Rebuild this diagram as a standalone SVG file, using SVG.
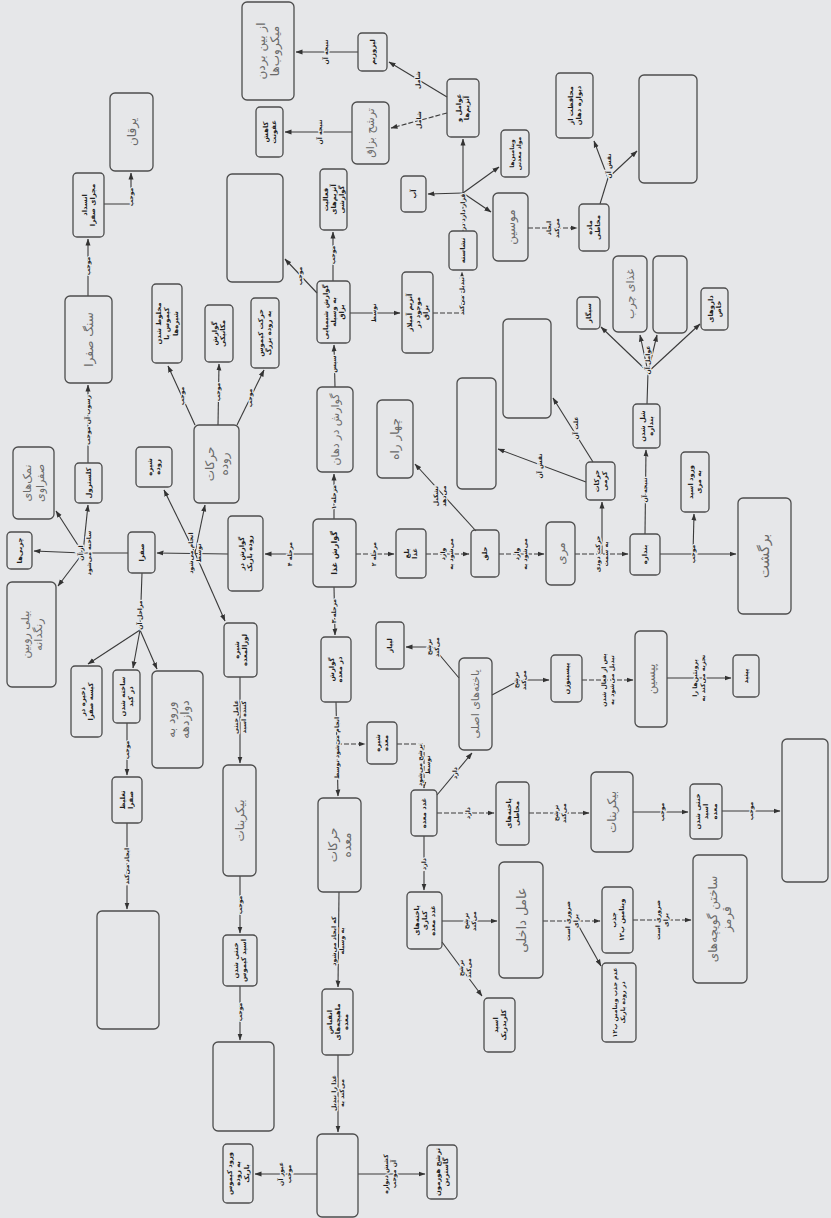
<svg xmlns="http://www.w3.org/2000/svg" width="831" height="1218" viewBox="0 0 831 1218">
<defs>
<style>
.bx{fill:none;stroke:#4d4d4d;stroke-width:1.3}
.t{font-family:"DejaVu Sans",sans-serif;font-size:6.8px;font-weight:bold;fill:#1e1e1e;text-anchor:middle}
.h{font-family:"DejaVu Sans",sans-serif;font-size:12px;fill:#6a6a6a;text-anchor:middle}
.l{font-family:"DejaVu Sans",sans-serif;font-size:6.2px;font-weight:bold;fill:#1e1e1e;text-anchor:middle;stroke:#e6e7e9;stroke-width:2.5;paint-order:stroke}
.e{fill:none;stroke:#3a3a3a;stroke-width:1.1}
.d{stroke-dasharray:5 2}
</style>
<marker id="a" markerWidth="7" markerHeight="6" refX="6.5" refY="3" orient="auto" markerUnits="userSpaceOnUse"><path d="M0,0.5 L7,3 L0,5.5z" fill="#333"/></marker>
</defs>
<rect width="831" height="1218" fill="#e6e7e9"/>
<g id="connectors">
<path class="e" d="M334,519 L334,474" marker-end="url(#a)"/>
<path class="e" d="M335,387 L334,345" marker-end="url(#a)"/>
<path class="e" d="M333,281 L333,232" marker-end="url(#a)"/>
<path class="e" d="M317,293 L285,259" marker-end="url(#a)"/>
<path class="e" d="M350,313 L400,313" marker-end="url(#a)"/>
<path class="e d" d="M433,313 L462,313 L462,272" marker-end="url(#a)"/>
<path class="e" d="M463,231 L463,139" marker-end="url(#a)"/>
<path class="e" d="M463,193 L428,194" marker-end="url(#a)"/>
<path class="e" d="M463,193 L499,167" marker-end="url(#a)"/>
<path class="e" d="M463,193 L491,212" marker-end="url(#a)"/>
<path class="e" d="M447,97 L389,62" marker-end="url(#a)"/>
<path class="e d" d="M447,113 L391,128" marker-end="url(#a)"/>
<path class="e" d="M358,52 L296,52" marker-end="url(#a)"/>
<path class="e" d="M352,132 L285,132" marker-end="url(#a)"/>
<path class="e d" d="M528,228 L577,228" marker-end="url(#a)"/>
<path class="e" d="M600,204 L608,178"/>
<path class="e" d="M608,178 L594,141" marker-end="url(#a)"/>
<path class="e" d="M608,178 L637,151" marker-end="url(#a)"/>
<path class="e d" d="M356,554 L394,554" marker-end="url(#a)"/>
<path class="e d" d="M426,554 L469,554" marker-end="url(#a)"/>
<path class="e" d="M476,531 L415,464" marker-end="url(#a)"/>
<path class="e d" d="M499,554 L544,554" marker-end="url(#a)"/>
<path class="e d" d="M575,554 L628,554" marker-end="url(#a)"/>
<path class="e" d="M602,554 L602,502" marker-end="url(#a)"/>
<path class="e" d="M586,482 L498,449" marker-end="url(#a)"/>
<path class="e" d="M593,462 L553,398" marker-end="url(#a)"/>
<path class="e" d="M645,534 L646,450" marker-end="url(#a)"/>
<path class="e" d="M647,404 L648,372"/>
<path class="e" d="M648,372 L601,327" marker-end="url(#a)"/>
<path class="e" d="M648,372 L640,335" marker-end="url(#a)"/>
<path class="e" d="M648,372 L657,335" marker-end="url(#a)"/>
<path class="e" d="M648,372 L700,324" marker-end="url(#a)"/>
<path class="e" d="M660,554 L736,554" marker-end="url(#a)"/>
<path class="e" d="M693,554 L694,514" marker-end="url(#a)"/>
<path class="e" d="M334,587 L335,635" marker-end="url(#a)"/>
<path class="e" d="M336,702 L338,796" marker-end="url(#a)"/>
<path class="e d" d="M337,744 L365,744" marker-end="url(#a)"/>
<path class="e d" d="M397,744 L424,744 L424,788" marker-end="url(#a)"/>
<path class="e" d="M437,795 L472,753" marker-end="url(#a)"/>
<path class="e d" d="M437,813 L494,813" marker-end="url(#a)"/>
<path class="e" d="M424,836 L424,890" marker-end="url(#a)"/>
<path class="e" d="M459,678 L433,647 L406,647" marker-end="url(#a)"/>
<path class="e" d="M492,695 L520,680 L549,680" marker-end="url(#a)"/>
<path class="e d" d="M582,680 L633,680" marker-end="url(#a)"/>
<path class="e" d="M667,678 L731,678" marker-end="url(#a)"/>
<path class="e d" d="M529,813 L589,813" marker-end="url(#a)"/>
<path class="e" d="M633,812 L688,812" marker-end="url(#a)"/>
<path class="e" d="M722,811 L780,811" marker-end="url(#a)"/>
<path class="e" d="M442,921 L497,921" marker-end="url(#a)"/>
<path class="e d" d="M543,921 L600,921" marker-end="url(#a)"/>
<path class="e" d="M577,923 L601,966" marker-end="url(#a)"/>
<path class="e d" d="M633,920 L691,920" marker-end="url(#a)"/>
<path class="e" d="M442,942 L482,996" marker-end="url(#a)"/>
<path class="e" d="M339,892 L338,987" marker-end="url(#a)"/>
<path class="e" d="M338,1055 L338,1132" marker-end="url(#a)"/>
<path class="e" d="M317,1174 L255,1174" marker-end="url(#a)"/>
<path class="e" d="M358,1174 L425,1174" marker-end="url(#a)"/>
<path class="e" d="M313,554 L265,554" marker-end="url(#a)"/>
<path class="e" d="M228,554 L157,553" marker-end="url(#a)"/>
<path class="e" d="M195,553 L164,490" marker-end="url(#a)"/>
<path class="e" d="M195,553 L205,505" marker-end="url(#a)"/>
<path class="e" d="M195,553 L225,621" marker-end="url(#a)"/>
<path class="e" d="M195,425 L168,366" marker-end="url(#a)"/>
<path class="e" d="M218,425 L219,364" marker-end="url(#a)"/>
<path class="e" d="M237,425 L264,370" marker-end="url(#a)"/>
<path class="e" d="M240,677 L240,763" marker-end="url(#a)"/>
<path class="e" d="M240,876 L240,933" marker-end="url(#a)"/>
<path class="e" d="M240,986 L240,1040" marker-end="url(#a)"/>
<path class="e" d="M128,553 L83,553"/>
<path class="e" d="M83,553 L34,551" marker-end="url(#a)"/>
<path class="e" d="M83,553 L88,505" marker-end="url(#a)"/>
<path class="e" d="M83,553 L56,511" marker-end="url(#a)"/>
<path class="e" d="M83,553 L58,586" marker-end="url(#a)"/>
<path class="e" d="M88,463 L88,385" marker-end="url(#a)"/>
<path class="e" d="M88,296 L88,239" marker-end="url(#a)"/>
<path class="e" d="M104,204 L131,204 L131,173" marker-end="url(#a)"/>
<path class="e" d="M142,573 L140,630"/>
<path class="e" d="M140,630 L88,664" marker-end="url(#a)"/>
<path class="e" d="M140,630 L133,668" marker-end="url(#a)"/>
<path class="e" d="M140,630 L157,669" marker-end="url(#a)"/>
<path class="e" d="M127,723 L127,775" marker-end="url(#a)"/>
<path class="e" d="M127,823 L127,909" marker-end="url(#a)"/>
<text class="l" transform="translate(334 497) rotate(-90)" dy=".35em">مرحله ۱</text>
<text class="l" transform="translate(334 364) rotate(-90)" dy=".35em">سپس</text>
<text class="l" transform="translate(333 255) rotate(-90)" dy=".35em">موجب</text>
<text class="l" transform="translate(300 276) rotate(-90)" dy=".35em">موجب</text>
<text class="l" transform="translate(374 313) rotate(-90)" dy=".35em">توسط</text>
<text class="l" transform="translate(462 296) rotate(-90)" dy=".35em">تبدیل می‌کند</text>
<text class="l" transform="translate(463 212) rotate(-90)" dy=".35em">قرار دارد در</text>
<text class="l" transform="translate(418 80) rotate(-90)" dy=".35em">شامل</text>
<text class="l" transform="translate(419 120) rotate(-90)" dy=".35em">شامل</text>
<text class="l" transform="translate(326 52) rotate(-90)" dy=".35em">نتیجه آن</text>
<text class="l" transform="translate(320 132) rotate(-90)" dy=".35em">نتیجه آن</text>
<text class="l" transform="translate(553 228) rotate(-90)"><tspan x="0" dy="-.25em">ایجاد</tspan><tspan x="0" dy="1.2em">می‌کند</tspan></text>
<text class="l" transform="translate(609 166) rotate(-90)" dy=".35em">نقش آن</text>
<text class="l" transform="translate(374 554) rotate(-90)" dy=".35em">مرحله ۲</text>
<text class="l" transform="translate(447 554) rotate(-90)"><tspan x="0" dy="-.25em">وارد</tspan><tspan x="0" dy="1.2em">می‌شود به</tspan></text>
<text class="l" transform="translate(440 496) rotate(-90)"><tspan x="0" dy="-.25em">تشکیل</tspan><tspan x="0" dy="1.2em">می‌دهد</tspan></text>
<text class="l" transform="translate(521 554) rotate(-90)"><tspan x="0" dy="-.25em">وارد</tspan><tspan x="0" dy="1.2em">می‌شود به</tspan></text>
<text class="l" transform="translate(602 554) rotate(-90)"><tspan x="0" dy="-.25em">حرکت دودی</tspan><tspan x="0" dy="1.2em">به سمت</tspan></text>
<text class="l" transform="translate(540 466) rotate(-90)" dy=".35em">نقش آن</text>
<text class="l" transform="translate(576 428) rotate(-90)" dy=".35em">علت آن</text>
<text class="l" transform="translate(645 490) rotate(-90)" dy=".35em">نتیجه آن</text>
<text class="l" transform="translate(648 360) rotate(-90)" dy=".35em">عوامل آن</text>
<text class="l" transform="translate(693 554) rotate(-90)" dy=".35em">موجب</text>
<text class="l" transform="translate(334 611) rotate(-90)" dy=".35em">مرحله ۳</text>
<text class="l" transform="translate(337 748) rotate(-90)" dy=".35em">انجام می‌شود توسط</text>
<text class="l" transform="translate(424 765) rotate(-90)"><tspan x="0" dy="-.25em">ترشح می‌شود</tspan><tspan x="0" dy="1.2em">توسط</tspan></text>
<text class="l" transform="translate(455 773) rotate(-90)" dy=".35em">دارد</text>
<text class="l" transform="translate(468 813) rotate(-90)" dy=".35em">دارد</text>
<text class="l" transform="translate(424 864) rotate(-90)" dy=".35em">دارد</text>
<text class="l" transform="translate(433 647) rotate(-90)"><tspan x="0" dy="-.25em">ترشح</tspan><tspan x="0" dy="1.2em">می‌کند</tspan></text>
<text class="l" transform="translate(520 680) rotate(-90)"><tspan x="0" dy="-.25em">ترشح</tspan><tspan x="0" dy="1.2em">می‌کند</tspan></text>
<text class="l" transform="translate(608 680) rotate(-90)"><tspan x="0" dy="-.25em">پس از فعال شدن</tspan><tspan x="0" dy="1.2em">تبدیل می‌شود به</tspan></text>
<text class="l" transform="translate(699 678) rotate(-90)"><tspan x="0" dy="-.25em">پروتئین‌ها را</tspan><tspan x="0" dy="1.2em">تجزیه می‌کند به</tspan></text>
<text class="l" transform="translate(560 813) rotate(-90)"><tspan x="0" dy="-.25em">ترشح</tspan><tspan x="0" dy="1.2em">می‌کند</tspan></text>
<text class="l" transform="translate(662 812) rotate(-90)" dy=".35em">موجب</text>
<text class="l" transform="translate(751 811) rotate(-90)" dy=".35em">موجب</text>
<text class="l" transform="translate(470 921) rotate(-90)"><tspan x="0" dy="-.25em">ترشح</tspan><tspan x="0" dy="1.2em">می‌کند</tspan></text>
<text class="l" transform="translate(572 921) rotate(-90)"><tspan x="0" dy="-.25em">ضروری است</tspan><tspan x="0" dy="1.2em">برای</tspan></text>
<text class="l" transform="translate(662 920) rotate(-90)"><tspan x="0" dy="-.25em">ضروری است</tspan><tspan x="0" dy="1.2em">برای</tspan></text>
<text class="l" transform="translate(465 968) rotate(-90)"><tspan x="0" dy="-.25em">ترشح</tspan><tspan x="0" dy="1.2em">می‌کند</tspan></text>
<text class="l" transform="translate(338 941) rotate(-90)"><tspan x="0" dy="-.25em">که ایجاد می‌شود</tspan><tspan x="0" dy="1.2em">به وسیله</tspan></text>
<text class="l" transform="translate(338 1093) rotate(-90)"><tspan x="0" dy="-.25em">غذا را تبدیل</tspan><tspan x="0" dy="1.2em">می‌کند به</tspan></text>
<text class="l" transform="translate(285 1174) rotate(-90)"><tspan x="0" dy="-.25em">عبور آن</tspan><tspan x="0" dy="1.2em">موجب</tspan></text>
<text class="l" transform="translate(390 1174) rotate(-90)"><tspan x="0" dy="-.25em">کشش دیواره</tspan><tspan x="0" dy="1.2em">آن موجب</tspan></text>
<text class="l" transform="translate(290 554) rotate(-90)" dy=".35em">مرحله ۴</text>
<text class="l" transform="translate(195 553) rotate(-90)"><tspan x="0" dy="-.25em">انجام می‌شود</tspan><tspan x="0" dy="1.2em">توسط</tspan></text>
<text class="l" transform="translate(182 396) rotate(-90)" dy=".35em">موجب</text>
<text class="l" transform="translate(218 392) rotate(-90)" dy=".35em">موجب</text>
<text class="l" transform="translate(250 398) rotate(-90)" dy=".35em">موجب</text>
<text class="l" transform="translate(240 717) rotate(-90)"><tspan x="0" dy="-.25em">عامل خنثی</tspan><tspan x="0" dy="1.2em">کننده اسید</tspan></text>
<text class="l" transform="translate(240 905) rotate(-90)" dy=".35em">موجب</text>
<text class="l" transform="translate(240 1012) rotate(-90)" dy=".35em">موجب</text>
<text class="l" transform="translate(85 553) rotate(-90)"><tspan x="0" dy="-.25em">از آن</tspan><tspan x="0" dy="1.2em">ساخته می‌شود</tspan></text>
<text class="l" transform="translate(88 420) rotate(-90)" dy=".35em">رسوب آن موجب</text>
<text class="l" transform="translate(88 266) rotate(-90)" dy=".35em">موجب</text>
<text class="l" transform="translate(131 197) rotate(-90)" dy=".35em">موجب</text>
<text class="l" transform="translate(140 615) rotate(-90)" dy=".35em">مراحل آن</text>
<text class="l" transform="translate(127 750) rotate(-90)" dy=".35em">موجب</text>
<text class="l" transform="translate(127 866) rotate(-90)" dy=".35em">ایجاد می‌کند</text>
</g>
<g id="n-center"><rect class="bx" x="313" y="519" width="43" height="68" rx="5"/><text class="t" style="font-size:8px" transform="translate(334.5 553) rotate(-90)" dy=".35em">گوارش غذا</text></g>
<g id="n-mouth"><rect class="bx" x="317" y="387" width="36" height="85" rx="5"/><text class="h" style="font-size:11px" transform="translate(335 429.5) rotate(-90)" dy=".35em">گوارش در دهان</text></g>
<g id="n-chem"><rect class="bx" x="317" y="281" width="33" height="62" rx="4"/><text class="t" transform="translate(333.5 312) rotate(-90)"><tspan x="0" dy="-.85em">گوارش شیمیایی</tspan><tspan x="0" dy="1.2em">به وسیله</tspan><tspan x="0" dy="1.2em">بزاق</tspan></text></g>
<g id="n-act"><rect class="bx" x="320" y="169" width="27" height="61" rx="4"/><text class="t" transform="translate(333.5 199.5) rotate(-90)"><tspan x="0" dy="-.85em">فعالیت</tspan><tspan x="0" dy="1.2em">آنزیم‌های</tspan><tspan x="0" dy="1.2em">گوارشی</tspan></text></g>
<g id="n-F"><rect class="bx" x="227" y="174" width="56" height="108" rx="5"/></g>
<g id="n-amyl"><rect class="bx" x="402" y="272" width="31" height="81" rx="4"/><text class="t" transform="translate(417.5 312.5) rotate(-90)"><tspan x="0" dy="-.85em">آنزیم آمیلاز</tspan><tspan x="0" dy="1.2em">موجود در</tspan><tspan x="0" dy="1.2em">بزاق</tspan></text></g>
<g id="n-starch"><rect class="bx" x="449" y="231" width="28" height="39" rx="4"/><text class="t" transform="translate(463 250.5) rotate(-90)" dy=".35em">نشاسته</text></g>
<g id="n-factors"><rect class="bx" x="447" y="79" width="32" height="58" rx="4"/><text class="t" transform="translate(463 108) rotate(-90)"><tspan x="0" dy="-.25em">عوامل و</tspan><tspan x="0" dy="1.2em">آنزیم‌ها</tspan></text></g>
<g id="n-lyso"><rect class="bx" x="358" y="33" width="29" height="38" rx="4"/><text class="t" transform="translate(372.5 52) rotate(-90)" dy=".35em">لیزوزیم</text></g>
<g id="n-A"><rect class="bx" x="242" y="2" width="52" height="98" rx="5"/><text class="h" transform="translate(268 51) rotate(-90)"><tspan x="0" dy="-.25em">از بین بردن</tspan><tspan x="0" dy="1.2em">میکروب‌ها</tspan></text></g>
<g id="n-D"><rect class="bx" x="352" y="102" width="37" height="62" rx="5"/><text class="h" style="font-size:11px" transform="translate(370.5 133) rotate(-90)" dy=".35em">ترشح بزاق</text></g>
<g id="n-E"><rect class="bx" x="256" y="107" width="27" height="50" rx="4"/><text class="t" transform="translate(269.5 132) rotate(-90)"><tspan x="0" dy="-.25em">کاهش</tspan><tspan x="0" dy="1.2em">عفونت</tspan></text></g>
<g id="n-water"><rect class="bx" x="401" y="176" width="25" height="36" rx="4"/><text class="t" transform="translate(413.5 194) rotate(-90)" dy=".35em">آب</text></g>
<g id="n-vit"><rect class="bx" x="501" y="130" width="28" height="47" rx="4"/><text class="t" style="font-size:6px" transform="translate(515 153.5) rotate(-90)"><tspan x="0" dy="-.25em">ویتامین‌ها</tspan><tspan x="0" dy="1.2em">مواد معدنی</tspan></text></g>
<g id="n-mucin"><rect class="bx" x="493" y="193" width="35" height="68" rx="5"/><text class="h" transform="translate(510.5 227) rotate(-90)" dy=".35em">موسین</text></g>
<g id="n-mucus"><rect class="bx" x="579" y="204" width="30" height="47" rx="4"/><text class="t" transform="translate(594 227.5) rotate(-90)"><tspan x="0" dy="-.25em">ماده</tspan><tspan x="0" dy="1.2em">مخاطی</tspan></text></g>
<g id="n-protect"><rect class="bx" x="556" y="73" width="37" height="65" rx="4"/><text class="t" transform="translate(574.5 105.5) rotate(-90)"><tspan x="0" dy="-.25em">محافظت از</tspan><tspan x="0" dy="1.2em">دیواره دهان</tspan></text></g>
<g id="n-P"><rect class="bx" x="639" y="75" width="58" height="108" rx="5"/></g>
<g id="n-Q"><rect class="bx" x="503" y="319" width="48" height="99" rx="5"/></g>
<g id="n-CC"><rect class="bx" x="457" y="378" width="39" height="111" rx="5"/></g>
<g id="n-peri"><rect class="bx" x="586" y="462" width="29" height="38" rx="4"/><text class="t" transform="translate(600.5 481) rotate(-90)"><tspan x="0" dy="-.25em">حرکات</tspan><tspan x="0" dy="1.2em">کرمی</tspan></text></g>
<g id="n-swallow"><rect class="bx" x="396" y="529" width="30" height="49" rx="4"/><text class="t" transform="translate(411 553.5) rotate(-90)"><tspan x="0" dy="-.25em">بلع</tspan><tspan x="0" dy="1.2em">غذا</tspan></text></g>
<g id="n-pharynx"><rect class="bx" x="471" y="530" width="28" height="47" rx="4"/><text class="t" transform="translate(485 553.5) rotate(-90)" dy=".35em">حلق</text></g>
<g id="n-cross"><rect class="bx" x="377" y="400" width="36" height="78" rx="5"/><text class="h" transform="translate(395 439) rotate(-90)" dy=".35em">چهار راه</text></g>
<g id="n-eso"><rect class="bx" x="546" y="522" width="29" height="63" rx="5"/><text class="h" transform="translate(560.5 553.5) rotate(-90)" dy=".35em">مری</text></g>
<g id="n-sph"><rect class="bx" x="630" y="534" width="30" height="41" rx="4"/><text class="t" transform="translate(645 554.5) rotate(-90)" dy=".35em">بنداره</text></g>
<g id="n-relax"><rect class="bx" x="633" y="404" width="27" height="44" rx="4"/><text class="t" transform="translate(646.5 426) rotate(-90)"><tspan x="0" dy="-.25em">شل شدن</tspan><tspan x="0" dy="1.2em">بنداره</tspan></text></g>
<g id="n-smoke"><rect class="bx" x="577" y="297" width="23" height="32" rx="4"/><text class="t" transform="translate(588.5 313) rotate(-90)" dy=".35em">سیگار</text></g>
<g id="n-fat"><rect class="bx" x="613" y="256" width="34" height="76" rx="5"/><text class="h" style="font-size:11px" transform="translate(630 294) rotate(-90)" dy=".35em">غذای چرب</text></g>
<g id="n-U"><rect class="bx" x="653" y="256" width="34" height="77" rx="5"/></g>
<g id="n-drug"><rect class="bx" x="701" y="288" width="27" height="42" rx="4"/><text class="t" transform="translate(714.5 309) rotate(-90)"><tspan x="0" dy="-.25em">داروهای</tspan><tspan x="0" dy="1.2em">خاص</tspan></text></g>
<g id="n-acid"><rect class="bx" x="681" y="452" width="28" height="60" rx="4"/><text class="t" transform="translate(695 482) rotate(-90)"><tspan x="0" dy="-.25em">ورود اسید</tspan><tspan x="0" dy="1.2em">به مری</tspan></text></g>
<g id="n-reflux"><rect class="bx" x="738" y="498" width="53" height="116" rx="5"/><text class="h" style="font-size:14px" transform="translate(764.5 556) rotate(-90)" dy=".35em">برگشت</text></g>
<g id="n-gastric"><rect class="bx" x="321" y="637" width="30" height="65" rx="4"/><text class="t" transform="translate(336 669.5) rotate(-90)"><tspan x="0" dy="-.25em">گوارش</tspan><tspan x="0" dy="1.2em">در معده</tspan></text></g>
<g id="n-juice"><rect class="bx" x="367" y="722" width="30" height="42" rx="4"/><text class="t" transform="translate(382 743) rotate(-90)"><tspan x="0" dy="-.25em">شیره</tspan><tspan x="0" dy="1.2em">معده</tspan></text></g>
<g id="n-glands"><rect class="bx" x="411" y="790" width="26" height="46" rx="4"/><text class="t" transform="translate(424 813) rotate(-90)" dy=".35em">غدد معده</text></g>
<g id="n-chief"><rect class="bx" x="459" y="658" width="33" height="92" rx="5"/><text class="h" style="font-size:11px" transform="translate(475.5 704) rotate(-90)" dy=".35em">یاخته‌های اصلی</text></g>
<g id="n-lipase"><rect class="bx" x="376" y="622" width="28" height="47" rx="4"/><text class="t" transform="translate(390 645.5) rotate(-90)" dy=".35em">لیپاز</text></g>
<g id="n-pepsinogen"><rect class="bx" x="551" y="655" width="31" height="47" rx="4"/><text class="t" transform="translate(566.5 678.5) rotate(-90)" dy=".35em">پپسینوژن</text></g>
<g id="n-pepsin"><rect class="bx" x="635" y="631" width="32" height="96" rx="5"/><text class="h" transform="translate(651 679) rotate(-90)" dy=".35em">پپسین</text></g>
<g id="n-peptide"><rect class="bx" x="733" y="655" width="26" height="42" rx="4"/><text class="t" transform="translate(746 676) rotate(-90)" dy=".35em">پپتید</text></g>
<g id="n-mucous"><rect class="bx" x="496" y="782" width="33" height="63" rx="4"/><text class="t" transform="translate(512.5 813.5) rotate(-90)"><tspan x="0" dy="-.25em">یاخته‌های</tspan><tspan x="0" dy="1.2em">مخاطی</tspan></text></g>
<g id="n-bicarb"><rect class="bx" x="591" y="772" width="42" height="80" rx="5"/><text class="h" transform="translate(612 812) rotate(-90)" dy=".35em">بیکربنات</text></g>
<g id="n-neutral"><rect class="bx" x="690" y="784" width="32" height="55" rx="4"/><text class="t" transform="translate(706 811.5) rotate(-90)"><tspan x="0" dy="-.85em">خنثی شدن</tspan><tspan x="0" dy="1.2em">اسید</tspan><tspan x="0" dy="1.2em">معده</tspan></text></g>
<g id="n-RR"><rect class="bx" x="782" y="739" width="46" height="143" rx="5"/></g>
<g id="n-parietal"><rect class="bx" x="407" y="892" width="35" height="57" rx="4"/><text class="t" transform="translate(424.5 920.5) rotate(-90)"><tspan x="0" dy="-.85em">یاخته‌های</tspan><tspan x="0" dy="1.2em">کناری</tspan><tspan x="0" dy="1.2em">غدد معده</tspan></text></g>
<g id="n-intrinsic"><rect class="bx" x="499" y="862" width="44" height="116" rx="5"/><text class="h" style="font-size:13px" transform="translate(521 920) rotate(-90)" dy=".35em">عامل داخلی</text></g>
<g id="n-b12"><rect class="bx" x="602" y="887" width="31" height="66" rx="4"/><text class="t" transform="translate(617.5 920) rotate(-90)"><tspan x="0" dy="-.25em">جذب</tspan><tspan x="0" dy="1.2em">ویتامین ب۱۲</tspan></text></g>
<g id="n-rbc"><rect class="bx" x="693" y="855" width="54" height="128" rx="5"/><text class="h" transform="translate(720 919) rotate(-90)"><tspan x="0" dy="-.25em">ساختن گویچه‌های</tspan><tspan x="0" dy="1.2em">قرمز</tspan></text></g>
<g id="n-hcl"><rect class="bx" x="484" y="998" width="31" height="54" rx="4"/><text class="t" transform="translate(499.5 1025) rotate(-90)"><tspan x="0" dy="-.25em">اسید</tspan><tspan x="0" dy="1.2em">کلریدریک</tspan></text></g>
<g id="n-noabs"><rect class="bx" x="602" y="963" width="34" height="79" rx="4"/><text class="t" style="font-size:6.2px" transform="translate(619 1002.5) rotate(-90)"><tspan x="0" dy="-.25em">عدم جذب ویتامین ب۱۲</tspan><tspan x="0" dy="1.2em">در روده باریک</tspan></text></g>
<g id="n-motion"><rect class="bx" x="318" y="798" width="43" height="94" rx="5"/><text class="h" transform="translate(339.5 845) rotate(-90)"><tspan x="0" dy="-.25em">حرکات</tspan><tspan x="0" dy="1.2em">معده</tspan></text></g>
<g id="n-contract"><rect class="bx" x="322" y="989" width="31" height="66" rx="4"/><text class="t" transform="translate(337.5 1022) rotate(-90)"><tspan x="0" dy="-.85em">انقباض</tspan><tspan x="0" dy="1.2em">ماهیچه‌های</tspan><tspan x="0" dy="1.2em">معده</tspan></text></g>
<g id="n-A8"><rect class="bx" x="317" y="1134" width="41" height="83" rx="5"/></g>
<g id="n-chyme"><rect class="bx" x="223" y="1144" width="30" height="59" rx="4"/><text class="t" transform="translate(238 1173.5) rotate(-90)"><tspan x="0" dy="-.85em">ورود کیموس</tspan><tspan x="0" dy="1.2em">به روده</tspan><tspan x="0" dy="1.2em">باریک</tspan></text></g>
<g id="n-gastrin"><rect class="bx" x="427" y="1145" width="30" height="54" rx="4"/><text class="t" transform="translate(442 1172) rotate(-90)"><tspan x="0" dy="-.25em">ترشح هورمون</tspan><tspan x="0" dy="1.2em">گاسترین</tspan></text></g>
<g id="n-small"><rect class="bx" x="228" y="516" width="35" height="75" rx="4"/><text class="t" transform="translate(245.5 553.5) rotate(-90)"><tspan x="0" dy="-.25em">گوارش در</tspan><tspan x="0" dy="1.2em">روده باریک</tspan></text></g>
<g id="n-bile"><rect class="bx" x="128" y="532" width="27" height="41" rx="4"/><text class="t" transform="translate(141.5 552.5) rotate(-90)" dy=".35em">صفرا</text></g>
<g id="n-intjuice"><rect class="bx" x="136" y="447" width="36" height="40" rx="4"/><text class="t" transform="translate(154 467) rotate(-90)"><tspan x="0" dy="-.25em">شیره</tspan><tspan x="0" dy="1.2em">روده</tspan></text></g>
<g id="n-intmotion"><rect class="bx" x="194" y="425" width="45" height="78" rx="5"/><text class="h" transform="translate(216.5 464) rotate(-90)"><tspan x="0" dy="-.25em">حرکات</tspan><tspan x="0" dy="1.2em">روده</tspan></text></g>
<g id="n-mix"><rect class="bx" x="152" y="284" width="30" height="79" rx="4"/><text class="t" transform="translate(167 323.5) rotate(-90)"><tspan x="0" dy="-.85em">مخلوط شدن</tspan><tspan x="0" dy="1.2em">کیموس با</tspan><tspan x="0" dy="1.2em">شیره‌ها</tspan></text></g>
<g id="n-mech"><rect class="bx" x="205" y="305" width="28" height="57" rx="4"/><text class="t" transform="translate(219 333.5) rotate(-90)"><tspan x="0" dy="-.25em">گوارش</tspan><tspan x="0" dy="1.2em">مکانیکی</tspan></text></g>
<g id="n-move"><rect class="bx" x="251" y="298" width="28" height="70" rx="4"/><text class="t" transform="translate(265 333) rotate(-90)"><tspan x="0" dy="-.25em">حرکت کیموس</tspan><tspan x="0" dy="1.2em">به روده بزرگ</tspan></text></g>
<g id="n-panc"><rect class="bx" x="224" y="623" width="33" height="54" rx="4"/><text class="t" transform="translate(240.5 650) rotate(-90)"><tspan x="0" dy="-.25em">شیره</tspan><tspan x="0" dy="1.2em">لوزالمعده</tspan></text></g>
<g id="n-bicarb2"><rect class="bx" x="223" y="765" width="33" height="111" rx="5"/><text class="h" transform="translate(239.5 820.5) rotate(-90)" dy=".35em">بیکربنات</text></g>
<g id="n-neutral2"><rect class="bx" x="223" y="935" width="34" height="51" rx="4"/><text class="t" transform="translate(240 960.5) rotate(-90)"><tspan x="0" dy="-.25em">خنثی شدن</tspan><tspan x="0" dy="1.2em">اسید کیموس</tspan></text></g>
<g id="n-A5"><rect class="bx" x="213" y="1042" width="61" height="89" rx="5"/></g>
<g id="n-fats"><rect class="bx" x="7" y="532" width="25" height="37" rx="4"/><text class="t" transform="translate(19.5 550.5) rotate(-90)" dy=".35em">چربی‌ها</text></g>
<g id="n-chol"><rect class="bx" x="75" y="463" width="27" height="40" rx="4"/><text class="t" transform="translate(88.5 483) rotate(-90)" dy=".35em">کلسترول</text></g>
<g id="n-salts"><rect class="bx" x="13" y="447" width="41" height="72" rx="5"/><text class="h" style="font-size:11px" transform="translate(33.5 483) rotate(-90)"><tspan x="0" dy="-.25em">نمک‌های</tspan><tspan x="0" dy="1.2em">صفراوی</tspan></text></g>
<g id="n-bilirubin"><rect class="bx" x="7" y="582" width="49" height="105" rx="5"/><text class="h" style="font-size:11px" transform="translate(31.5 634.5) rotate(-90)"><tspan x="0" dy="-.25em">بیلی روبین</tspan><tspan x="0" dy="1.2em">رنگدانه</tspan></text></g>
<g id="n-store"><rect class="bx" x="71" y="666" width="31" height="71" rx="4"/><text class="t" transform="translate(86.5 701.5) rotate(-90)"><tspan x="0" dy="-.25em">ذخیره در</tspan><tspan x="0" dy="1.2em">کیسه صفرا</tspan></text></g>
<g id="n-liver"><rect class="bx" x="113" y="670" width="27" height="53" rx="4"/><text class="t" transform="translate(126.5 696.5) rotate(-90)"><tspan x="0" dy="-.25em">ساخته شدن</tspan><tspan x="0" dy="1.2em">در کبد</tspan></text></g>
<g id="n-duod"><rect class="bx" x="152" y="671" width="51" height="97" rx="5"/><text class="h" transform="translate(177.5 719.5) rotate(-90)"><tspan x="0" dy="-.25em">ورود به</tspan><tspan x="0" dy="1.2em">دوازدهه</tspan></text></g>
<g id="n-conc"><rect class="bx" x="112" y="777" width="30" height="46" rx="4"/><text class="t" transform="translate(127 800) rotate(-90)"><tspan x="0" dy="-.25em">تغلیظ</tspan><tspan x="0" dy="1.2em">صفرا</tspan></text></g>
<g id="n-A2"><rect class="bx" x="97" y="911" width="62" height="118" rx="5"/></g>
<g id="n-stone"><rect class="bx" x="65" y="296" width="47" height="87" rx="5"/><text class="h" transform="translate(88.5 339.5) rotate(-90)" dy=".35em">سنگ صفرا</text></g>
<g id="n-block"><rect class="bx" x="73" y="173" width="31" height="64" rx="4"/><text class="t" transform="translate(88.5 205) rotate(-90)"><tspan x="0" dy="-.25em">انسداد</tspan><tspan x="0" dy="1.2em">مجرای صفرا</tspan></text></g>
<g id="n-jaundice"><rect class="bx" x="110" y="93" width="43" height="78" rx="5"/><text class="h" transform="translate(131.5 132) rotate(-90)" dy=".35em">یرقان</text></g>
</svg>
